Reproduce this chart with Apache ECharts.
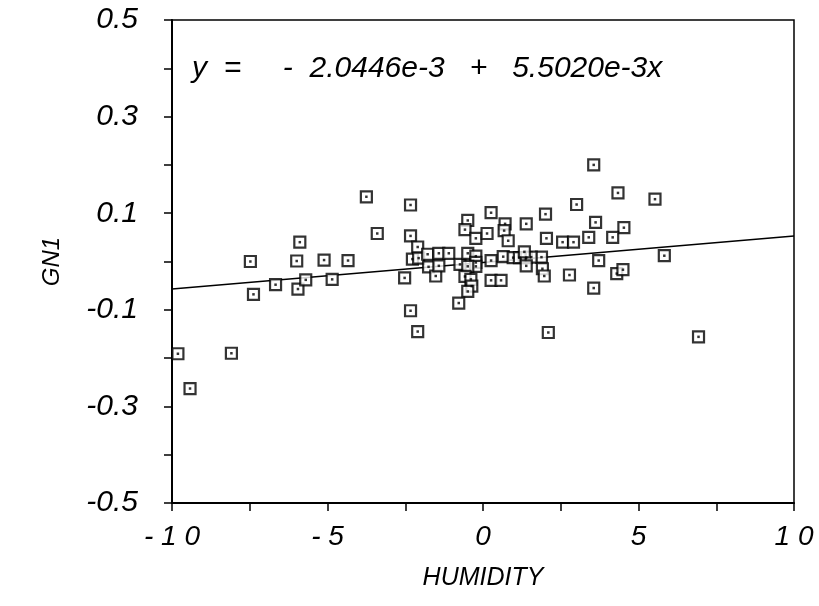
<!DOCTYPE html>
<html>

<head>
	<meta charset="utf-8">
	<script type="text/javascript" src="https://cdn.jsdelivr.net/npm/echarts@6/dist/echarts.min.js"></script>
</head>

<body style="margin:0; background:#fff;">
	<div id="main" style="width: 819px; height:606px;"></div>

	<script type="text/javascript">

		// points
		var humidity = [-9.81, -9.42, -8.09, -7.48, -7.38, -6.67, -5.89, -5.99, -5.95, -5.70,
			-5.11, -4.85, -4.34, -3.75, -3.40, -2.33, -2.33, -2.52, -2.33, -2.10,
			-2.10, -2.27, -2.07, -1.78, -1.42, -1.10, -1.75, -1.52, -1.42, -0.49,
			-0.58, -0.23, 0.13, 0.26, 0.71, 0.68, 0.81, -0.74, -0.49, -0.23,
			-0.23, -0.23, -0.49, -0.58, -0.39, -0.36, -0.49, -0.78, 0.26, 0.65,
			0.97, 1.17, 0.26, 0.58, 1.39, 1.39, 3.56, 4.34, 5.53, 3.01,
			2.01, 3.62, 4.53, 2.04, 2.56, 2.91, 3.40, 4.17, 5.83, 3.72,
			1.88, 1.55, 1.33, 1.39, 1.91, 1.97, 2.78, 4.30, 4.50, 3.56,
			2.10, 6.93];
		var gn1 = [-0.191, -0.263, -0.190, 0.000, -0.068, -0.048, 0.040, 0.001, -0.057, -0.038,
			0.003, -0.037, 0.002, 0.134, 0.058, 0.117, 0.053, -0.034, -0.102, -0.145,
			0.030, 0.005, 0.007, 0.015, 0.017, 0.017, -0.011, -0.030, -0.009, 0.085,
			0.066, 0.048, 0.058, 0.101, 0.078, 0.064, 0.043, -0.006, 0.017, 0.011,
			-0.002, -0.010, -0.010, -0.031, -0.037, -0.051, -0.062, -0.086, 0.002, 0.010,
			0.008, 0.008, -0.039, -0.039, 0.008, 0.078, 0.200, 0.142, 0.129, 0.118,
			0.098, 0.081, 0.070, 0.048, 0.040, 0.040, 0.050, 0.050, 0.012, 0.002,
			0.009, 0.009, 0.020, -0.009, -0.015, -0.030, -0.028, -0.025, -0.017, -0.055,
			-0.147, -0.156];

		// fitted line  y = -2.0446e-3 + 5.5020e-3x
		var lineX = [-10, 10];
		var lineY = [-0.0571, 0.0530];

		var xTickValues = [-10, -5, 0, 5, 10];
		var xTickText = ['- 1 0', '- 5', '0', '5', '1 0'];
		var yTickValues = [-0.5, -0.3, -0.1, 0.1, 0.3, 0.5];
		var yTickText = ['-0.5', '-0.3', '-0.1', '0.1', '0.3', '0.5'];

		var points = [];
		for (var i = 0; i < humidity.length; i++) {
			points.push([humidity[i], gn1[i]]);
		}
		var linePts = [];
		for (var i = 0; i < lineX.length; i++) {
			linePts.push([lineX[i], lineY[i]]);
		}

		var font = 'Liberation Sans';

		var chart = echarts.init(document.getElementById('main'));
		chart.setOption({
			animation: false,
			backgroundColor: '#fff',
			grid: {
				left: 172, right: 25, top: 20, bottom: 103,
				show: true, borderColor: '#000', borderWidth: 1.5
			},
			graphic: [{
				type: 'text',
				left: 192,
				top: 54,
				style: {
					text: 'y  =     -  2.0446e-3   +   5.5020e-3x',
					font: 'italic 30px "Liberation Sans"',
					fill: '#000'
				}
			}],
			xAxis: {
				type: 'value',
				min: -10, max: 10, interval: 2.5,
				name: 'HUMIDITY',
				nameLocation: 'middle',
				nameGap: 63,
				nameTextStyle: { fontFamily: font, fontStyle: 'italic', fontSize: 25, color: '#000' },
				axisLine: { onZero: false, lineStyle: { color: '#000', width: 2 } },
				axisTick: { length: 8, lineStyle: { color: '#000', width: 1.5 } },
				splitLine: { show: false },
				axisLabel: {
					margin: 20,
					fontFamily: font, fontStyle: 'italic', fontSize: 28, color: '#000',
					formatter: function (v) {
						var k = xTickValues.indexOf(v);
						return k >= 0 ? xTickText[k] : '';
					}
				}
			},
			yAxis: {
				type: 'value',
				min: -0.5, max: 0.5, interval: 0.1,
				name: 'GN1',
				nameLocation: 'middle',
				nameGap: 108,
				nameRotate: 90,
				nameTextStyle: { fontFamily: font, fontStyle: 'italic', fontSize: 24, color: '#000' },
				axisLine: { onZero: false, lineStyle: { color: '#000', width: 2 } },
				axisTick: { length: 8, lineStyle: { color: '#000', width: 1.5 } },
				splitLine: { show: false },
				axisLabel: {
					margin: 34,
					fontFamily: font, fontStyle: 'italic', fontSize: 30, color: '#000',
					formatter: function (v) {
						for (var k = 0; k < yTickValues.length; k++) {
							if (Math.abs(v - yTickValues[k]) < 1e-6) return yTickText[k];
						}
						return '';
					}
				}
			},
			series: [{
				type: 'line',
				data: linePts,
				symbol: 'none',
				lineStyle: { color: '#000', width: 1.5 },
				z: 1
			}, {
				type: 'scatter',
				data: points,
				symbol: 'rect',
				symbolSize: 11,
				itemStyle: { color: '#fff', borderColor: '#000', borderWidth: 2.2 },
				z: 2
			}, {
				type: 'scatter',
				data: points,
				symbol: 'rect',
				symbolSize: 2.5,
				itemStyle: { color: '#000' },
				z: 3
			}]
		});

	</script>
</body>

</html>
